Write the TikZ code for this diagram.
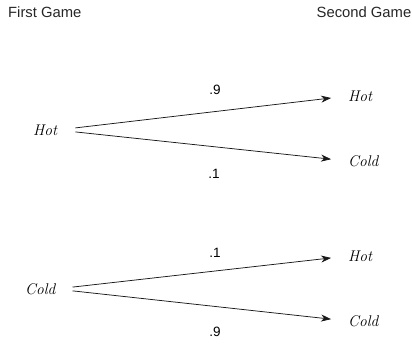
\documentclass[tikz,border=0pt]{standalone}
\usepackage{fontspec}
\newfontfamily\hdr{Liberation Sans}
\usetikzlibrary{arrows.meta}
\begin{document}
\begin{tikzpicture}[x=1pt,y=-1pt,
  hdrtext/.style={font=\hdr\fontsize{14.8}{16}\selectfont, text=black!85, inner sep=0pt},
  state/.style={font=\fontsize{15.5}{17}\selectfont\itshape, inner sep=0pt},
  prob/.style={font=\hdr\fontsize{13.5}{15}\selectfont, inner sep=0pt},
  arr/.style={draw=black!90, line width=0.75pt, -{Stealth[length=10pt,width=7pt,inset=3pt]}}]
\useasboundingbox (0,0) rectangle (412,343);
\node[hdrtext, anchor=west] (g1) at (8,12) {First Game};
\node[hdrtext, anchor=east] (g2) at (411.5,12) {Second Game};
% top tree
\node[state, anchor=west] (h1) at (33,130) {Hot};
\node[state, anchor=west] (h2) at (348,96) {Hot};
\node[state, anchor=west] (c2) at (348,161) {Cold};
\draw[arr, shorten <=18pt, shorten >=17pt] (h1.east) -- (h2.west);
\draw[arr, shorten <=18pt, shorten >=17pt] (h1.east) -- (c2.west);
\node[prob] (p1) at (215,90) {.9};
\node[prob] (p2) at (214,174) {.1};
% bottom tree
\node[state, anchor=west] (c1) at (25,289) {Cold};
\node[state, anchor=west] (h3) at (348,256) {Hot};
\node[state, anchor=west] (c3) at (348,321) {Cold};
\draw[arr, shorten <=17pt, shorten >=17pt] (c1.east) -- (h3.west);
\draw[arr, shorten <=17pt, shorten >=17pt] (c1.east) -- (c3.west);
\node[prob] (p3) at (215,253) {.1};
\node[prob] (p4) at (215,332) {.9};
\end{tikzpicture}
\end{document}
